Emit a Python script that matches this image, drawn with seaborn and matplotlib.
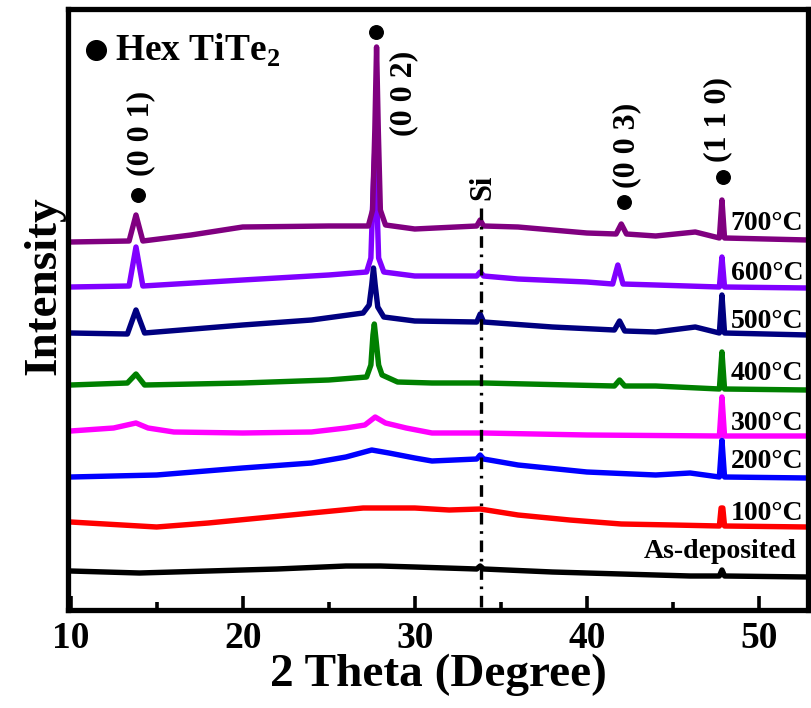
import matplotlib
matplotlib.use("Agg")
import matplotlib.pyplot as plt
import seaborn as sns
import pandas as pd

# ---------------- data (intensity in arbitrary, stacked units) ----------------
samples = ["As-deposited", "100°C", "200°C", "300°C", "400°C", "500°C", "600°C", "700°C"]
colors = ["#000000", "#FF0000", "#0000FF", "#FF00FF", "#008000", "#000080", "#8000FF", "#800080"]

x_asdep = [10, 14, 18, 22, 26, 28, 30, 33.6, 33.8, 34, 38, 42, 46, 47.7, 47.85, 48, 52.85]
y_asdep = [39, 37, 39, 41, 44, 44, 43, 41, 44, 41, 38, 36, 34, 34, 40, 34, 33]

x_100 = [10, 12, 15, 18, 21, 24, 27, 30, 32, 33.8, 36, 39, 42, 45, 47.7, 47.8, 47.9, 48.0, 52.85]
y_100 = [88, 86, 83, 87, 92, 97, 102, 102, 100, 101, 95, 90, 86, 85, 84, 102, 102, 84, 83]

x_200 = [10, 15, 20, 24, 26, 27.5, 28.5, 30, 31, 33.6, 33.8, 34, 36, 40, 44, 46, 47.7, 47.85, 48, 52.85]
y_200 = [133, 135, 142, 147, 153, 160, 157, 152, 149, 151, 155, 151, 145, 138, 135, 137, 133, 170, 133, 132]

x_300 = [10, 12.5, 13.8, 14.5, 16, 20, 24, 26, 27.1, 27.7, 28.3, 29.5, 31, 34, 40, 47.7, 47.85, 48, 52.85]
y_300 = [179, 182, 187, 182, 178, 177, 178, 182, 185, 193, 187, 182, 177, 177, 175, 174, 213, 174, 174]

x_400 = [10, 13.3, 13.8, 14.3, 20, 25, 27.2, 27.45, 27.57, 27.65, 27.75, 27.9, 28.1, 29, 31, 34,
         41.6, 41.9, 42.2, 44, 47.7, 47.85, 48, 52.85]
y_400 = [225, 227, 236, 225, 227, 230, 233, 245, 275, 286, 270, 245, 235, 228, 227, 227,
         224, 230, 224, 224, 221, 258, 221, 220]

x_500 = [10, 13.3, 13.8, 14.3, 20, 24, 27.0, 27.35, 27.5, 27.6, 27.7, 27.85, 28.2, 30, 33.6, 33.8, 34,
         38, 41.6, 41.9, 42.2, 44, 46.3, 47.7, 47.85, 48, 52.85]
y_500 = [277, 276, 300, 277, 285, 290, 297, 305, 325, 342, 325, 303, 293, 289, 288, 296, 288,
         283, 280, 289, 279, 278, 283, 277, 315, 277, 275]

x_600 = [10, 13.4, 13.8, 14.2, 20, 25, 27.2, 27.45, 27.58, 27.68, 27.78, 27.9, 28.2, 30, 33.6, 33.8, 34,
         36, 40, 41.5, 41.8, 42.1, 44, 47.7, 47.85, 48, 52.85]
y_600 = [323, 324, 363, 324, 330, 335, 338, 352, 420, 460, 420, 352, 338, 334, 334, 338, 334,
         331, 328, 326, 345, 326, 325, 323, 353, 323, 322]

x_700 = [10, 13.4, 13.8, 14.2, 17, 20, 25, 27.3, 27.55, 27.68, 27.78, 27.88, 28.0, 28.3, 30, 33.6, 33.8, 34,
         36, 40, 41.7, 42.0, 42.3, 44, 46.3, 47.7, 47.85, 48, 52.85]
y_700 = [368, 369, 395, 369, 375, 383, 384, 384, 400, 480, 563, 480, 400, 385, 381, 384, 390, 384,
         383, 377, 376, 386, 376, 374, 378, 372, 410, 372, 370]

series_x = [x_asdep, x_100, x_200, x_300, x_400, x_500, x_600, x_700]
series_y = [y_asdep, y_100, y_200, y_300, y_400, y_500, y_600, y_700]

# label positions for the right-hand temperature labels
label_y = [58, 97, 148, 186, 237, 288, 337, 386]
label_x = [43.28, 48.35, 48.35, 48.35, 48.35, 48.35, 48.35, 48.35]

# peak markers (hex TiTe2)
peak_x = [13.92, 27.76, 42.15, 47.93]
peak_y = [415, 578, 408, 433]
peak_labels = ["(0 0 1)", "(0 0 2)", "(0 0 3)", "(1 1 0)"]
peak_lab_x = [14.1, 29.35, 42.3, 47.6]
peak_lab_y = [477, 517, 465, 490]

si_x = 33.82
xticks_major = [10, 20, 30, 40, 50]
xticks_minor = [15, 25, 35, 45]

# ---------------- build figure ----------------
sns.set_style("white")
plt.rcParams["font.family"] = ["Liberation Serif", "DejaVu Serif"]
plt.rcParams["font.weight"] = "bold"
plt.rcParams["text.color"] = "black"
plt.rcParams["axes.labelcolor"] = "black"
plt.rcParams["xtick.color"] = "black"
plt.rcParams["mathtext.fontset"] = "custom"
plt.rcParams["mathtext.rm"] = "Liberation Serif:bold"

rows = []
for name, xs, ys in zip(samples, series_x, series_y):
    for a, b in zip(xs, ys):
        rows.append({"theta": a, "intensity": b, "sample": name})
df = pd.DataFrame(rows)

fig = plt.figure(figsize=(8.12, 7.08), dpi=100)
ax = fig.add_axes([68 / 812, (708 - 610) / 708, (808 - 68) / 812, (610 - 9) / 708])

sns.lineplot(data=df, x="theta", y="intensity", hue="sample", hue_order=samples,
             palette=dict(zip(samples, colors)), estimator=None, sort=False,
             legend=False, lw=3.9, ax=ax)

ax.set_xlim(9.85, 52.85)
ax.set_ylim(0, 601)

# Si reference line
ax.plot([si_x, si_x], [3, 405], color="black", lw=2.4, linestyle=(0, (3.5, 2.0, 0.8, 2.0)))
ax.text(si_x + 0.15, 423, "Si", rotation=90, ha="center", va="center", fontsize=22, fontweight="bold")

# peak dots and labels
ax.scatter(peak_x, peak_y, s=95, color="black", zorder=5)
for px, py, lab in zip(peak_lab_x, peak_lab_y, peak_labels):
    ax.text(px, py, lab, rotation=90, ha="center", va="center", fontsize=23, fontweight="bold")

# legend-like annotation
ax.scatter([11.45], [560], s=200, color="black", zorder=5)
ax.text(12.6, 560, "Hex TiTe$_\\mathregular{2}$", ha="left", va="center", fontsize=27, fontweight="bold")

# temperature labels
for lx, ly, lab in zip(label_x, label_y, samples):
    ax.text(lx, ly, lab, ha="left", va="center", fontsize=20, fontweight="bold", zorder=6)

# axes styling
ax.set_xticks(xticks_major)
ax.set_xticks(xticks_minor, minor=True)
ax.set_yticks([])
ax.tick_params(axis="x", which="major", direction="in", length=10, width=2.6,
               labelsize=27, pad=8, top=False, bottom=True)
ax.tick_params(axis="x", which="minor", direction="in", length=5.5, width=2.6, top=False, bottom=True)
for lab in ax.get_xticklabels():
    lab.set_fontweight("bold")
for s in ax.spines.values():
    s.set_linewidth(3.8)
    s.set_color("black")

ax.set_xlabel("2 Theta (Degree)", fontsize=34, fontweight="bold", labelpad=-2)
ax.set_ylabel("Intensity", fontsize=34, fontweight="bold")
ax.yaxis.set_label_coords(-0.004, 0.54)

fig.savefig("out.png", dpi=100)
